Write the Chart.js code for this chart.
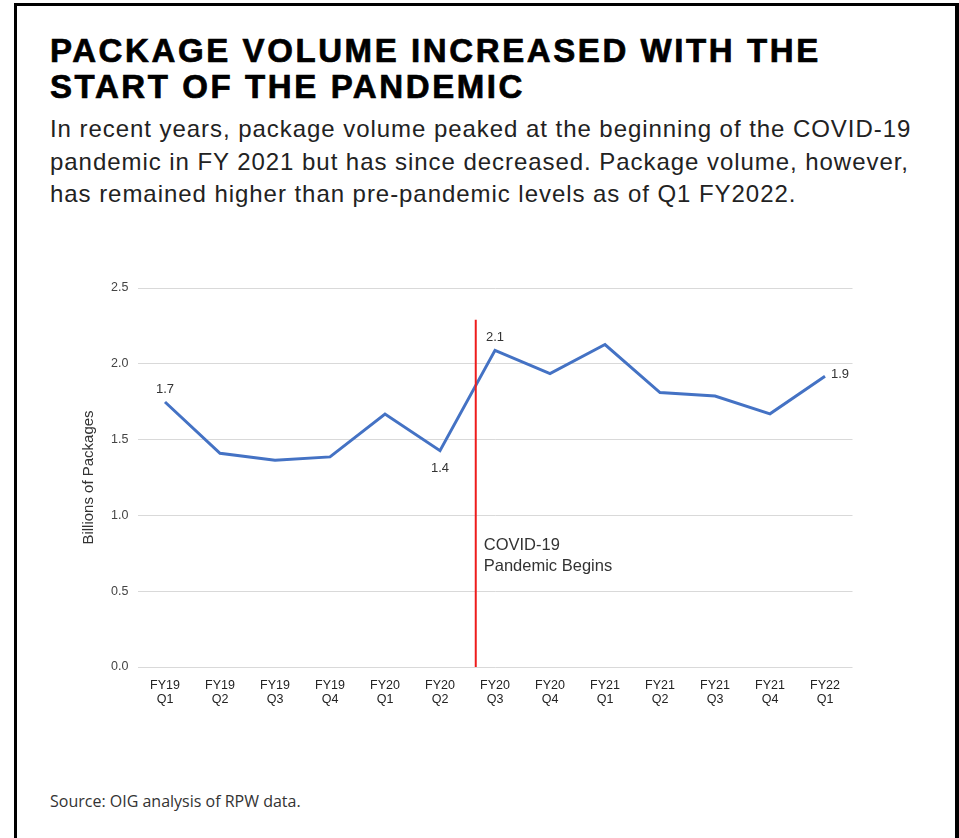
<!DOCTYPE html>
<html lang="en">
<head>
    <meta charset="UTF-8">
    <title>Package Volume</title>
    <script src="https://cdn.jsdelivr.net/npm/chart.js"></script>
    <style>
        html, body { margin: 0; padding: 0; background: #fff; overflow: hidden; }
        body { width: 959px; height: 838px; position: relative; }
        #frame {
            position: absolute; left: 14px; top: 3px;
            width: 938px; height: 900px;
            border: 3px solid #000; border-right-width: 4px; border-bottom: none;
        }
        h1 {
            position: absolute; left: 50px; top: 33px; margin: 0;
            font-family: "Liberation Sans", Arial, sans-serif;
            font-weight: bold; font-size: 33px; line-height: 36px;
            letter-spacing: 2.6px; color: #000;
            -webkit-text-stroke: 0.7px #000;
        }
        #sub {
            position: absolute; left: 50px; top: 113px; margin: 0;
            font-family: "Liberation Sans", Arial, sans-serif;
            font-size: 24px; line-height: 32.5px; letter-spacing: 0.95px; color: #222;
        }
        #source {
            position: absolute; left: 50px; top: 790px; margin: 0;
            font-family: "Open Sans", sans-serif;
            font-size: 16px; color: #333;
        }
        #chartBox { position: absolute; left: 40px; top: 270px; width: 840px; height: 450px; }
    </style>
</head>
<body>
    <div id="frame"></div>
    <h1>PACKAGE VOLUME INCREASED WITH THE<br>START OF THE PANDEMIC</h1>
    <p id="sub">In recent years, package volume peaked at the beginning of the COVID-19<br>pandemic in FY 2021 but has since decreased. Package volume, however,<br>has remained higher than pre-pandemic levels as of Q1 FY2022.</p>
    <div id="chartBox"><canvas id="volumeChart"></canvas></div>
    <p id="source">Source: OIG analysis of RPW data.</p>

    <script>
        // quarterly package volume, billions
        const quarters = [
            ['FY19', 'Q1'], ['FY19', 'Q2'], ['FY19', 'Q3'], ['FY19', 'Q4'],
            ['FY20', 'Q1'], ['FY20', 'Q2'], ['FY20', 'Q3'], ['FY20', 'Q4'],
            ['FY21', 'Q1'], ['FY21', 'Q2'], ['FY21', 'Q3'], ['FY21', 'Q4'],
            ['FY22', 'Q1']
        ];
        const volumes = [1.748, 1.410, 1.364, 1.386, 1.669, 1.427, 2.089, 1.935, 2.127, 1.810, 1.787, 1.670, 1.918];
        const yTicks = [0, 0.5, 1.0, 1.5, 2.0, 2.5];

        // pandemic marker sits between FY20 Q2 and Q3
        const pandemicIndex = 5.65;
        const pandemicTop = 2.29;
        const pandemicText = ['COVID-19', 'Pandemic Begins'];

        Chart.defaults.font.family = '"Liberation Sans", Arial, sans-serif';
        Chart.defaults.color = '#333';

        // which points get a value label, and where
        const labelSpots = { 0: 'above', 5: 'below', 6: 'above', 12: 'right' };

        const pointLabels = {
            id: 'pointLabels',
            afterDatasetsDraw(chart) {
                const ctx = chart.ctx;
                const meta = chart.getDatasetMeta(0);
                ctx.save();
                ctx.font = '13px "Liberation Sans", Arial, sans-serif';
                ctx.fillStyle = '#333';
                Object.keys(labelSpots).forEach(k => {
                    const i = Number(k);
                    const pt = meta.data[i];
                    const txt = volumes[i].toFixed(1);
                    const spot = labelSpots[k];
                    if (spot === 'above') {
                        ctx.textAlign = 'center'; ctx.textBaseline = 'bottom';
                        ctx.fillText(txt, pt.x, pt.y - 6);
                    } else if (spot === 'below') {
                        ctx.textAlign = 'center'; ctx.textBaseline = 'top';
                        ctx.fillText(txt, pt.x, pt.y + 11);
                    } else {
                        ctx.textAlign = 'left'; ctx.textBaseline = 'middle';
                        ctx.fillText(txt, pt.x + 6, pt.y - 2);
                    }
                });
                ctx.restore();
            }
        };

        const pandemicLine = {
            id: 'pandemicLine',
            afterDatasetsDraw(chart) {
                const { ctx, scales: { x, y } } = chart;
                const px = x.getPixelForValue(pandemicIndex);
                ctx.save();
                ctx.strokeStyle = '#ee1c1c';
                ctx.lineWidth = 2;
                ctx.beginPath();
                ctx.moveTo(px, y.getPixelForValue(pandemicTop));
                ctx.lineTo(px, y.getPixelForValue(0));
                ctx.stroke();

                ctx.font = '16.5px "Liberation Sans", Arial, sans-serif';
                ctx.fillStyle = '#333';
                ctx.textAlign = 'left';
                ctx.textBaseline = 'alphabetic';
                const base = y.getPixelForValue(0.77);
                pandemicText.forEach((line, n) => ctx.fillText(line, px + 8, base + n * 21));
                ctx.restore();
            }
        };

        const ctx = document.getElementById('volumeChart').getContext('2d');
        new Chart(ctx, {
            type: 'line',
            data: {
                labels: quarters,
                datasets: [{
                    label: 'Billions of Packages',
                    data: volumes,
                    borderColor: '#4472c4',
                    borderWidth: 3,
                    pointRadius: 0,
                    tension: 0,
                    fill: false
                }]
            },
            options: {
                responsive: true,
                maintainAspectRatio: false,
                animation: false,
                layout: { padding: { top: 18, right: 27.5, bottom: 0, left: 0 } },
                plugins: {
                    legend: { display: false },
                    tooltip: { enabled: false }
                },
                scales: {
                    x: {
                        offset: true,
                        grid: { display: false, drawTicks: false },
                        border: { display: false },
                        ticks: {
                            padding: 12,
                            maxRotation: 0,
                            autoSkip: false,
                            color: '#222',
                            font: { size: 12.5, lineHeight: 1.1 }
                        },
                        afterFit(scale) { scale.height = 53; }
                    },
                    y: {
                        min: 0,
                        max: 2.5,
                        afterBuildTicks(scale) { scale.ticks = yTicks.map(v => ({ value: v })); },
                        grid: { color: '#d9d9d9', drawTicks: false },
                        border: { display: false },
                        ticks: {
                            padding: 9,
                            color: '#444',
                            font: { size: 12.5 },
                            callback: v => Number(v).toFixed(1)
                        },
                        title: {
                            display: true,
                            text: 'Billions of Packages',
                            color: '#333',
                            font: { size: 15 },
                            padding: { top: 40 }
                        },
                        afterFit(scale) { scale.width = 97.5; }
                    }
                }
            },
            plugins: [pandemicLine, pointLabels]
        });
    </script>
</body>
</html>
